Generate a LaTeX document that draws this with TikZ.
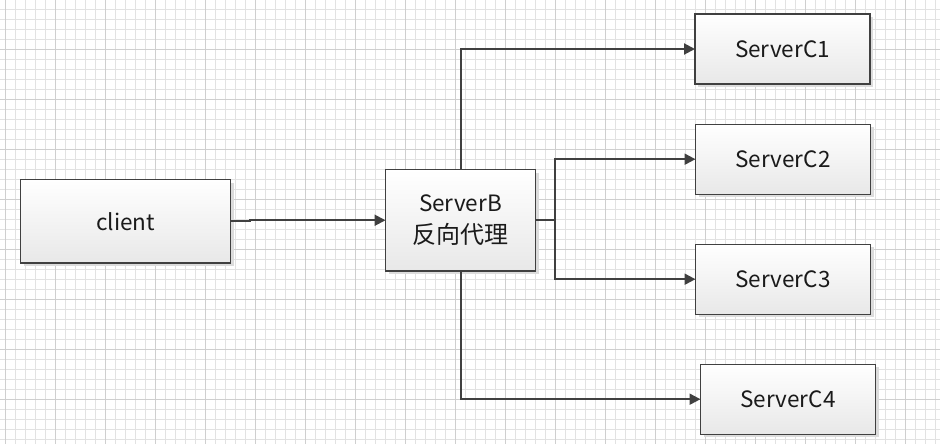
\documentclass[tikz,border=0pt]{standalone}
\usepackage{fontspec}
\setmainfont{Noto Sans CJK SC}
\usetikzlibrary{arrows.meta,shadows}
\definecolor{gridminor}{HTML}{E2E2E2}
\definecolor{gridmajor}{HTML}{CFCFCF}
\definecolor{edge}{HTML}{404040}
\definecolor{boxbottom}{HTML}{E8E8E8}
\definecolor{shadowgray}{HTML}{DCDCDC}
\definecolor{ink}{HTML}{1A1A1A}
\newcommand{\cjklabel}[1]{{\fontsize{24}{32}\selectfont #1}}
\tikzset{
  minorline/.style={gridminor, line width=1pt},
  majorline/.style={gridmajor, line width=1pt},
  serverbox/.style={draw=edge, line width=1.3pt, rectangle,
    top color=white, bottom color=boxbottom,
    inner sep=0pt, outer sep=0pt, text=ink, align=center,
    font=\fontsize{22.5}{32}\selectfont,
    drop shadow={shadow xshift=3pt, shadow yshift=-3pt, fill=shadowgray, opacity=1}},
  link/.style={draw=edge, line width=2pt},
  arrowlink/.style={link, -{Triangle[length=11pt,width=11pt]}}
}
\begin{document}
\begin{tikzpicture}[x=1pt,y=-1pt]
\useasboundingbox (0,0) rectangle (940,444);
\fill[white] (0,0) rectangle (940,444);
% background grid: thin lines every 10, stronger every 50
\foreach \gx in {5,15,...,935} \draw[minorline] (\gx,0) -- (\gx,444);
\foreach \gy in {9.5,19.5,...,439.5} \draw[minorline] (0,\gy) -- (940,\gy);
\foreach \gx in {5,55,...,905} \draw[majorline] (\gx,0) -- (\gx,444);
\foreach \gy in {49.5,99.5,...,399.5} \draw[majorline] (0,\gy) -- (940,\gy);

% boxes
\node[serverbox, minimum width=210pt, minimum height=83.5pt] (client) at (125.5,221.25) {client};
\node[serverbox, minimum width=150pt, minimum height=101.5pt] (B) at (460.5,220.25) {ServerB\\\cjklabel{反向代理}};
\node[serverbox, minimum width=175pt, minimum height=70pt] (C1) at (782.5,49) {ServerC1};
\node[serverbox, minimum width=175pt, minimum height=70pt] (C2) at (783,159.2) {ServerC2};
\node[serverbox, minimum width=175pt, minimum height=70pt] (C3) at (783,279.2) {ServerC3};
\node[serverbox, minimum width=175pt, minimum height=70pt] (C4) at (788,399.2) {ServerC4};

% connectors
\path (client.east) ++(19,0) coordinate (jog);
\draw[arrowlink] (client.east) -- (jog) |- (B.west);
\draw[arrowlink] (B.north) |- (C1.west);
\draw[arrowlink] (B.south) |- (C4.west);
\path (B.east) ++(19,0) coordinate (br);
\draw[link] (B.east) -- (br);
\draw[arrowlink] (br) |- (C2.west);
\draw[arrowlink] (br) |- (C3.west);
\end{tikzpicture}
\end{document}
